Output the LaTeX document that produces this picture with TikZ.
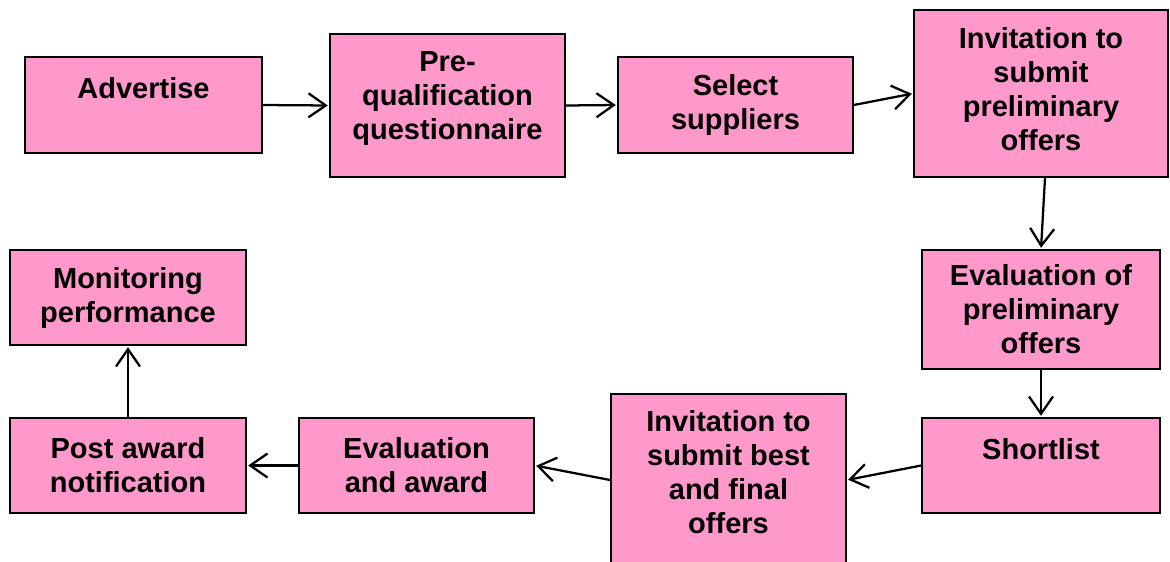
\documentclass[tikz,border=0pt]{standalone}
\usepackage{fontspec}
\setmainfont{Liberation Sans}
\usetikzlibrary{arrows.meta}

\begin{document}
\begin{tikzpicture}[x=0.75pt, y=-0.75pt,
    stage/.style={draw=black, line width=1.3pt, fill=StagePink, inner sep=0pt,
        align=center, font=\bfseries\fontsize{21.75}{25.5}\selectfont},
    flow/.style={-{Straight Barb[length=13pt, width=18pt]}, line width=1.7pt, shorten >=1pt}]
    \definecolor{StagePink}{HTML}{FF99CC}
    \useasboundingbox (0,0) rectangle (1170,561);
    \node[stage, minimum width=177.75pt, minimum height=72pt] (advertise) at (143.5,105) {Advertise\\ \mbox{}};
    \node[stage, minimum width=176.25pt, minimum height=107.25pt, text depth=15pt] (prequal) at (447.5,105.5) {Pre-\\qualification\\questionnaire};
    \node[stage, minimum width=176.25pt, minimum height=72pt] (select) at (735.5,105) {Select\\suppliers};
    \node[stage, minimum width=190.5pt, minimum height=125.25pt, text depth=7pt] (invprelim) at (1041,93.5) {Invitation to\\submit\\preliminary\\offers};
    \node[stage, minimum width=178.5pt, minimum height=89.25pt] (evalprelim) at (1041,309.5) {Evaluation of\\preliminary\\offers};
    \node[stage, minimum width=178.5pt, minimum height=71.25pt] (shortlist) at (1041,465.5) {Shortlist\\ \mbox{}};
    \node[stage, minimum width=176.25pt, minimum height=129pt, text depth=12pt] (invbest) at (728.5,480) {Invitation to\\submit best\\and final\\offers};
    \node[stage, minimum width=176.25pt, minimum height=71.25pt] (evalaward) at (416.5,465.5) {Evaluation\\and award};
    \node[stage, minimum width=177pt, minimum height=71.25pt] (postaward) at (128,465.5) {Post award\\notification};
    \node[stage, minimum width=177pt, minimum height=71.25pt] (monitoring) at (128,297.5) {Monitoring\\performance};
    \draw[flow] (advertise.east) -- (prequal.west);
    \draw[flow] (prequal.east) -- (select.west);
    \draw[flow] (select.east) -- (invprelim.west);
    \draw[flow] ([xshift=3pt]invprelim.south) -- (evalprelim.north);
    \draw[flow] (evalprelim.south) -- (shortlist.north);
    \draw[flow] (shortlist.west) -- (invbest.east);
    \draw[flow] (invbest.west) -- (evalaward.east);
    \draw[flow] (evalaward.west) -- (postaward.east);
    \draw[flow] (postaward.north) -- (monitoring.south);
\end{tikzpicture}
\end{document}
